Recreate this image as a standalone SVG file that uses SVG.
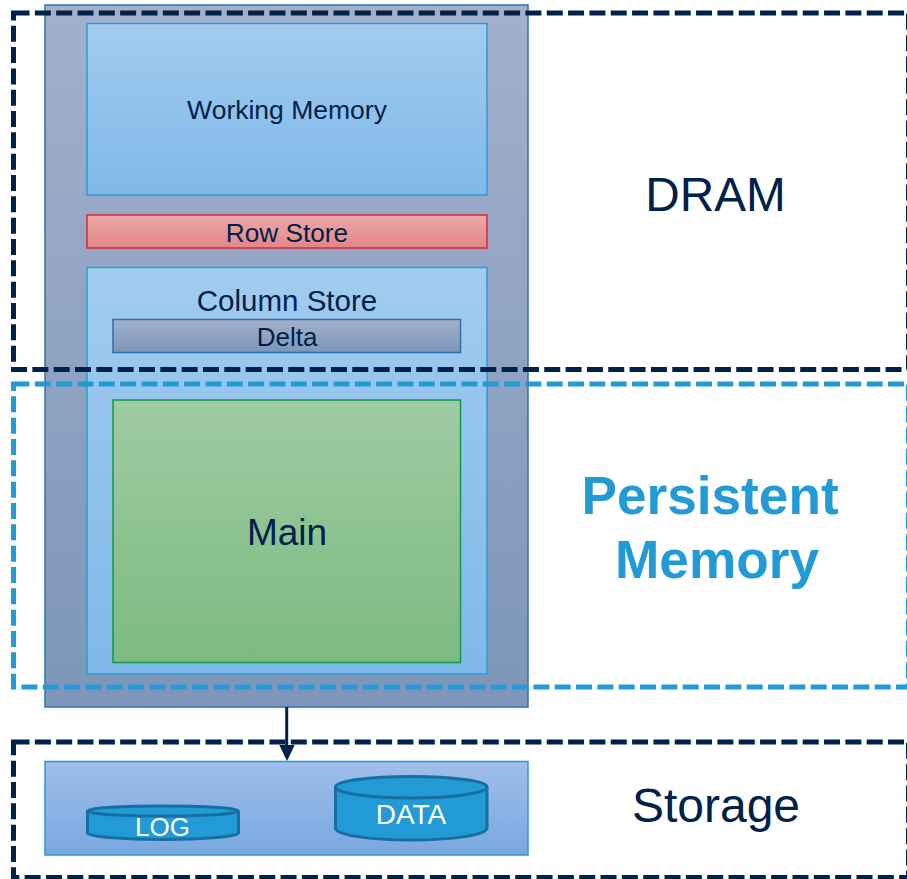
<svg xmlns="http://www.w3.org/2000/svg" width="907" height="879" viewBox="0 0 907 879">
<style>
text{font-family:"Liberation Sans",Arial,sans-serif;text-anchor:middle;fill:#002148}
.dash{fill:none;stroke-width:5;stroke-dasharray:16 5.33;stroke:#002148}
.cyl{fill:#229ad6;stroke:#156fa0;stroke-width:3}
.rim{fill:none;stroke:#156fa0;stroke-width:3}
</style>
<defs>
<linearGradient id="gOuter" x1="0" y1="0" x2="0" y2="1"><stop offset="0" stop-color="#a2b0cb"/><stop offset="1" stop-color="#7d96b9"/></linearGradient>
<linearGradient id="gBlue" x1="0" y1="0" x2="0" y2="1"><stop offset="0" stop-color="#a1ccef"/><stop offset="1" stop-color="#7fb9e8"/></linearGradient>
<linearGradient id="gRed" x1="0" y1="0" x2="0" y2="1"><stop offset="0" stop-color="#eca9a8"/><stop offset="1" stop-color="#e38587"/></linearGradient>
<linearGradient id="gGreen" x1="0" y1="0" x2="0" y2="1"><stop offset="0" stop-color="#9fcba3"/><stop offset="1" stop-color="#7dba80"/></linearGradient>
<linearGradient id="gStorage" x1="0" y1="0" x2="0" y2="1"><stop offset="0" stop-color="#a0beea"/><stop offset="1" stop-color="#78a8e0"/></linearGradient>
</defs>
<g id="hana">
<rect x="45" y="5" width="483" height="702" fill="url(#gOuter)" stroke="#2e75a8" stroke-width="1.500"/>
</g>
<g id="working-memory">
<rect x="87" y="23.500" width="400" height="171.500" fill="url(#gBlue)" stroke="#2e9ad4" stroke-width="1.500"/>
<text x="287" y="119" font-size="26.500">Working Memory</text>
</g>
<g id="row-store">
<rect x="87" y="215" width="400" height="33" fill="url(#gRed)" stroke="#d9283a" stroke-width="1.500"/>
<text x="287" y="242" font-size="26.200">Row Store</text>
</g>
<g id="column-store">
<rect x="87" y="267.500" width="400" height="406.500" fill="url(#gBlue)" stroke="#2e9ad4" stroke-width="1.500"/>
<text x="287" y="310.500" font-size="29.500">Column Store</text>
</g>
<g id="delta">
<rect x="113" y="319.500" width="347.500" height="33" fill="url(#gOuter)" stroke="#2e6fa8" stroke-width="1.500"/>
<text x="287" y="346" font-size="26">Delta</text>
</g>
<g id="main">
<rect x="113" y="400" width="347.500" height="262.500" fill="url(#gGreen)" stroke="#0f9b48" stroke-width="1.500"/>
<text x="287" y="545" font-size="37">Main</text>
</g>
<g id="storage-block">
<rect x="45" y="761.500" width="483" height="93.500" fill="url(#gStorage)" stroke="#2e9ad4" stroke-width="1.500"/>
</g>
<g id="log">
<path class="cyl" d="M87.500 811V833C87.500 836.500 121 839.500 163 839.500S238.500 836.500 238.500 833V811C238.500 808 205 806 163 806S87.500 808 87.500 811Z"/>
<path class="rim" d="M87.500 811C87.500 814 121 816 163 816S238.500 814 238.500 811"/>
<text x="162.500" y="836" font-size="26" style="fill:#fff">LOG</text>
</g>
<g id="data">
<path class="cyl" d="M335.500 787V828C335.500 835 369 840 411 840S487 835 487 828V787C487 781 453 776.500 411 776.500S335.500 781 335.500 787Z"/>
<path class="rim" d="M335.500 787C335.500 793 369 798 411 798S487 793 487 787"/>
<text x="411" y="824" font-size="28" style="fill:#fff">DATA</text>
</g>
<g id="connectors">
<path d="M286.700 707V747" stroke="#002148" stroke-width="3" fill="none"/>
<path d="M279.300 745H294.700L287 761Z" fill="#002148"/>
</g>
<g id="dram-region">
<rect class="dash" x="13.500" y="13" width="895" height="356.500"/>
<text x="715.500" y="210.500" font-size="47.700">DRAM</text>
</g>
<g id="persistent-region">
<rect class="dash" x="13.500" y="384" width="895" height="303" style="stroke:#229ad6"/>
<text x="710" y="514" font-size="53.200" font-weight="700" style="fill:#229ad6">Persistent</text>
<text x="717" y="578" font-size="53.200" font-weight="700" style="fill:#229ad6">Memory</text>
</g>
<g id="storage-region">
<rect class="dash" x="13.500" y="742" width="895" height="135.500"/>
<text x="716" y="822" font-size="48">Storage</text>
</g>
</svg>
